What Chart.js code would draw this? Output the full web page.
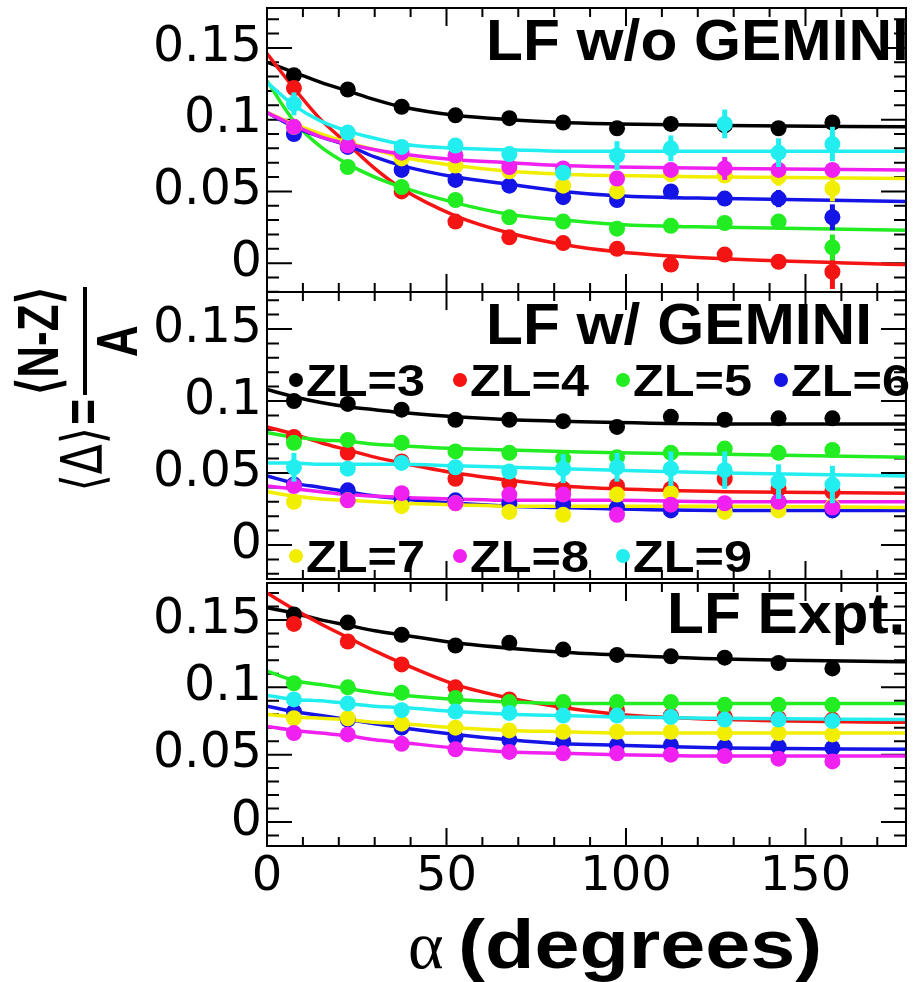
<!DOCTYPE html>
<html>
<head>
<meta charset="utf-8">
<script src="https://cdn.jsdelivr.net/npm/chart.js@4.4.0/dist/chart.umd.min.js"></script>
<style>
  html, body { margin: 0; padding: 0; background: #fff; }
  #wrap { position: relative; width: 915px; height: 982px; overflow: hidden; background: #fff; }
  #wrap canvas { position: absolute; left: 0; top: 0; }
</style>
</head>
<body>
<div id="wrap">
  <canvas id="panel1" width="915" height="982"></canvas>
  <canvas id="panel2" width="915" height="982"></canvas>
  <canvas id="panel3" width="915" height="982"></canvas>
</div>
<script>
// angle bins (degrees) of the measured points
const angles = [7.5, 22.5, 37.5, 52.5, 67.5, 82.5, 97.5, 112.5, 127.5, 142.5, 157.5];
const fitAngles = [0, 7.5, 15, 22.5, 30, 37.5, 52.5, 67.5, 82.5, 97.5, 127.5, 178];
const zlLabels = ['ZL=3', 'ZL=4', 'ZL=5', 'ZL=6', 'ZL=7', 'ZL=8', 'ZL=9'];
const zlColors = ['#000000', '#f41414', '#22ec22', '#1414e6', '#f2ee00', '#f020f0', '#22eef0'];
const xTickValues = [0, 50, 100, 150];
const yTickValues = [0, 0.05, 0.1, 0.15];

// LF w/o GEMINI
const woGeminiPts = [
  [0.131, 0.121, 0.109, 0.103, 0.101, 0.098, 0.094, 0.097, 0.096, 0.094, 0.098],
  [0.122, 0.083, 0.050, 0.029, 0.018, 0.014, 0.010, -0.001, 0.006, 0.001, -0.006],
  [0.095, 0.067, 0.053, 0.044, 0.032, 0.029, 0.024, 0.026, 0.028, 0.029, 0.011],
  [0.090, 0.081, 0.065, 0.058, 0.054, 0.046, 0.044, 0.050, 0.045, 0.045, 0.032],
  [0.095, 0.084, 0.073, 0.068, 0.064, 0.054, 0.050, 0.062, 0.061, 0.060, 0.052],
  [0.095, 0.082, 0.077, 0.075, 0.067, 0.066, 0.059, 0.065, 0.066, 0.065, 0.065],
  [0.111, 0.091, 0.081, 0.082, 0.076, 0.063, 0.075, 0.080, 0.097, 0.077, 0.083]
];
const woGeminiErr = [
  [0.002, 0.002, 0.002, 0.002, 0.002, 0.002, 0.002, 0.002, 0.003, 0.002, 0.002],
  [0.003, 0.003, 0.003, 0.003, 0.004, 0.004, 0.004, 0.004, 0.005, 0.004, 0.012],
  [0.003, 0.003, 0.003, 0.003, 0.003, 0.003, 0.003, 0.003, 0.003, 0.003, 0.009],
  [0.003, 0.003, 0.003, 0.003, 0.003, 0.003, 0.003, 0.004, 0.004, 0.006, 0.009],
  [0.003, 0.003, 0.003, 0.003, 0.003, 0.004, 0.004, 0.004, 0.004, 0.006, 0.009],
  [0.003, 0.003, 0.003, 0.003, 0.003, 0.003, 0.005, 0.005, 0.008, 0.004, 0.004],
  [0.008, 0.004, 0.003, 0.005, 0.005, 0.005, 0.010, 0.009, 0.010, 0.010, 0.012]
];
const woGeminiFit = [
  [0.140, 0.133, 0.126, 0.120, 0.114, 0.109, 0.103, 0.100, 0.098, 0.097, 0.096, 0.095],
  [0.146, 0.122, 0.100, 0.083, 0.066, 0.052, 0.033, 0.021, 0.013, 0.008, 0.003, -0.001],
  [0.127, 0.099, 0.081, 0.069, 0.060, 0.053, 0.042, 0.034, 0.030, 0.027, 0.025, 0.023],
  [0.105, 0.095, 0.088, 0.082, 0.074, 0.068, 0.060, 0.055, 0.050, 0.047, 0.045, 0.043],
  [0.105, 0.097, 0.090, 0.084, 0.079, 0.074, 0.068, 0.064, 0.062, 0.061, 0.060, 0.059],
  [0.105, 0.096, 0.088, 0.083, 0.079, 0.076, 0.072, 0.070, 0.068, 0.067, 0.066, 0.065],
  [0.126, 0.110, 0.099, 0.092, 0.087, 0.083, 0.080, 0.079, 0.078, 0.078, 0.078, 0.078]
];

// LF w/ GEMINI
const wGeminiPts = [
  [0.100, 0.098, 0.094, 0.087, 0.087, 0.086, 0.082, 0.089, 0.087, 0.088, 0.088],
  [0.075, 0.064, 0.058, 0.046, 0.043, 0.039, 0.041, 0.039, 0.046, 0.039, 0.037],
  [0.071, 0.073, 0.071, 0.065, 0.064, 0.060, 0.061, 0.064, 0.067, 0.064, 0.066],
  [0.042, 0.038, 0.032, 0.031, 0.029, 0.028, 0.026, 0.024, 0.025, 0.030, 0.024],
  [0.030, 0.031, 0.027, 0.029, 0.023, 0.021, 0.035, 0.036, 0.023, 0.024, 0.027],
  [0.041, 0.031, 0.036, 0.029, 0.035, 0.035, 0.021, 0.028, 0.029, 0.030, 0.026],
  [0.054, 0.053, 0.057, 0.054, 0.051, 0.053, 0.054, 0.053, 0.052, 0.044, 0.042]
];
const wGeminiErr = [
  [0.003, 0.003, 0.003, 0.003, 0.003, 0.003, 0.003, 0.003, 0.003, 0.003, 0.003],
  [0.003, 0.003, 0.003, 0.003, 0.003, 0.003, 0.003, 0.003, 0.004, 0.003, 0.003],
  [0.003, 0.003, 0.003, 0.003, 0.003, 0.003, 0.003, 0.003, 0.004, 0.003, 0.003],
  [0.003, 0.003, 0.003, 0.003, 0.003, 0.003, 0.003, 0.003, 0.003, 0.004, 0.003],
  [0.004, 0.004, 0.004, 0.004, 0.004, 0.004, 0.004, 0.004, 0.004, 0.004, 0.004],
  [0.004, 0.004, 0.004, 0.004, 0.004, 0.004, 0.004, 0.004, 0.004, 0.004, 0.004],
  [0.010, 0.005, 0.004, 0.005, 0.005, 0.010, 0.010, 0.012, 0.013, 0.012, 0.013]
];
const wGeminiFit = [
  [0.108, 0.103, 0.099, 0.096, 0.094, 0.092, 0.089, 0.087, 0.086, 0.085, 0.084, 0.084],
  [0.082, 0.077, 0.071, 0.066, 0.061, 0.057, 0.050, 0.045, 0.041, 0.039, 0.037, 0.036],
  [0.078, 0.075, 0.073, 0.072, 0.070, 0.069, 0.067, 0.066, 0.065, 0.064, 0.063, 0.061],
  [0.048, 0.043, 0.040, 0.037, 0.034, 0.032, 0.029, 0.027, 0.026, 0.025, 0.024, 0.024],
  [0.037, 0.034, 0.032, 0.031, 0.030, 0.029, 0.028, 0.027, 0.027, 0.027, 0.027, 0.026],
  [0.041, 0.039, 0.037, 0.035, 0.034, 0.033, 0.032, 0.031, 0.031, 0.031, 0.030, 0.030],
  [0.057, 0.057, 0.056, 0.056, 0.056, 0.056, 0.055, 0.054, 0.053, 0.052, 0.050, 0.048]
];

// LF Expt.
const exptPts = [
  [0.154, 0.148, 0.139, 0.131, 0.133, 0.128, 0.124, 0.123, 0.122, 0.118, 0.114],
  [0.147, 0.134, 0.117, 0.100, 0.091, 0.086, 0.083, 0.079, 0.078, 0.077, 0.076],
  [0.103, 0.100, 0.096, 0.092, 0.089, 0.089, 0.089, 0.089, 0.087, 0.087, 0.087],
  [0.082, 0.076, 0.070, 0.063, 0.061, 0.060, 0.057, 0.057, 0.056, 0.056, 0.055],
  [0.077, 0.077, 0.073, 0.070, 0.068, 0.067, 0.067, 0.067, 0.066, 0.066, 0.065],
  [0.066, 0.065, 0.058, 0.054, 0.052, 0.051, 0.051, 0.050, 0.049, 0.047, 0.045],
  [0.091, 0.088, 0.083, 0.082, 0.081, 0.079, 0.079, 0.078, 0.076, 0.076, 0.075]
];
const exptErr = [
  [0.002, 0.002, 0.002, 0.002, 0.002, 0.002, 0.002, 0.002, 0.002, 0.002, 0.002],
  [0.003, 0.003, 0.003, 0.003, 0.002, 0.002, 0.002, 0.002, 0.002, 0.002, 0.002],
  [0.002, 0.002, 0.002, 0.002, 0.002, 0.002, 0.002, 0.002, 0.002, 0.002, 0.002],
  [0.002, 0.002, 0.002, 0.002, 0.002, 0.002, 0.002, 0.002, 0.002, 0.002, 0.002],
  [0.002, 0.002, 0.002, 0.002, 0.002, 0.002, 0.002, 0.002, 0.002, 0.002, 0.002],
  [0.002, 0.002, 0.002, 0.002, 0.002, 0.002, 0.002, 0.002, 0.002, 0.002, 0.003],
  [0.002, 0.002, 0.002, 0.002, 0.002, 0.002, 0.002, 0.002, 0.002, 0.002, 0.002]
];
const exptFit = [
  [0.159, 0.155, 0.150, 0.146, 0.142, 0.139, 0.133, 0.129, 0.126, 0.124, 0.121, 0.119],
  [0.170, 0.158, 0.147, 0.137, 0.127, 0.118, 0.102, 0.092, 0.085, 0.080, 0.076, 0.074],
  [0.112, 0.105, 0.102, 0.099, 0.096, 0.094, 0.091, 0.089, 0.088, 0.088, 0.088, 0.088],
  [0.086, 0.082, 0.079, 0.076, 0.073, 0.070, 0.065, 0.061, 0.058, 0.057, 0.055, 0.054],
  [0.080, 0.078, 0.077, 0.076, 0.074, 0.073, 0.070, 0.068, 0.067, 0.066, 0.066, 0.066],
  [0.071, 0.068, 0.066, 0.064, 0.061, 0.059, 0.055, 0.052, 0.051, 0.050, 0.049, 0.049],
  [0.094, 0.091, 0.090, 0.088, 0.086, 0.085, 0.082, 0.080, 0.079, 0.078, 0.077, 0.076]
];

const NUM_FONT = '"DejaVu Sans", sans-serif';
const BOLD_FONT = '"Liberation Sans", Arial, sans-serif';

// draws text with a stretch (the figure's lettering is wide)
function wideText(ctx, text, x, y, font, sx, align, sy) {
  ctx.save();
  ctx.font = font;
  ctx.fillStyle = '#000';
  ctx.textAlign = align || 'left';
  ctx.textBaseline = 'alphabetic';
  ctx.translate(x, y);
  ctx.scale(sx, sy || 1);
  ctx.fillText(text, 0, 0);
  ctx.restore();
}

// ROOT style frame: inward ticks on all four sides
const framePlugin = {
  id: 'frame',
  beforeDatasetsDraw(chart) {
    const { ctx, chartArea: a } = chart;
    const xs = chart.scales.x, ys = chart.scales.y;
    ctx.save();
    ctx.strokeStyle = '#000';
    ctx.lineWidth = 2;
    ctx.beginPath();
    for (let k = 0; k <= 17; k++) {
      const px = xs.getPixelForValue(k * 10);
      const len = k % 5 === 0 ? 18 : 9;
      ctx.moveTo(px, a.top); ctx.lineTo(px, a.top + len);
      ctx.moveTo(px, a.bottom); ctx.lineTo(px, a.bottom - len);
    }
    for (let k = -2; k <= 17; k++) {
      const v = k / 100;
      if (v < ys.min || v > ys.max) continue;
      const py = ys.getPixelForValue(v);
      const len = k % 5 === 0 ? 25 : 12;
      ctx.moveTo(a.left, py); ctx.lineTo(a.left + len, py);
      ctx.moveTo(a.right, py); ctx.lineTo(a.right - len, py);
    }
    ctx.stroke();
    ctx.restore();
  },
  afterDatasetsDraw(chart) {
    const { ctx, chartArea: a } = chart;
    ctx.save();
    ctx.strokeStyle = '#000';
    ctx.lineWidth = 2;
    ctx.strokeRect(a.left, a.top, a.right - a.left, a.bottom - a.top);
    ctx.restore();
  }
};

// vertical error bars under each marker set
const errorBarPlugin = {
  id: 'errorBars',
  beforeDatasetDraw(chart, args) {
    const ds = chart.data.datasets[args.index];
    if (!ds.errors) return;
    const { ctx, chartArea: a } = chart;
    const ys = chart.scales.y;
    ctx.save();
    ctx.beginPath();
    ctx.rect(a.left, a.top, a.right - a.left, a.bottom - a.top);
    ctx.clip();
    ctx.strokeStyle = ds.borderColor;
    ctx.lineWidth = 5;
    args.meta.data.forEach((pt, i) => {
      const v = ds.data[i].y, e = ds.errors[i];
      ctx.beginPath();
      ctx.moveTo(pt.x, ys.getPixelForValue(v - e));
      ctx.lineTo(pt.x, ys.getPixelForValue(v + e));
      ctx.stroke();
    });
    ctx.restore();
  }
};

const panelTitlePlugin = {
  id: 'panelTitle',
  afterDraw(chart, args, opts) {
    if (!opts.text) return;
    wideText(chart.ctx, opts.text, opts.x, opts.y, 'bold 57px ' + BOLD_FONT, 1.06);
  }
};

// legend laid out in two rows inside the middle panel
const zlLegendPlugin = {
  id: 'zlLegend',
  afterDraw(chart, args, opts) {
    if (!opts.show) return;
    const ctx = chart.ctx;
    const cols = [296, 460, 623, 781];
    const rows = [380, 556];
    zlLabels.forEach((lab, k) => {
      const cx = cols[k % 4], cy = rows[Math.floor(k / 4)];
      ctx.save();
      ctx.fillStyle = zlColors[k];
      ctx.beginPath();
      ctx.arc(cx, cy, 7, 0, Math.PI * 2);
      ctx.fill();
      ctx.restore();
      wideText(ctx, lab, cx + 10, cy + 16, 'bold 42px ' + BOLD_FONT, 1.2, 'left', 1.05);
    });
  }
};

const axisTitlePlugin = {
  id: 'axisTitles',
  afterDraw(chart, args, opts) {
    if (!opts.show) return;
    const ctx = chart.ctx;
    // x title
    ctx.save();
    ctx.fillStyle = '#000';
    ctx.font = '68px "Liberation Serif", serif';
    ctx.textBaseline = 'alphabetic';
    ctx.fillText('\u03B1', 408, 968);
    ctx.restore();
    wideText(ctx, '(degrees)', 458, 968, 'bold 68px ' + BOLD_FONT, 1.19);
    // y title, rotated; glyphs stretched across the text like the rest of the figure
    ctx.save();
    ctx.fillStyle = '#000';
    ctx.translate(85, 395);
    ctx.rotate(-Math.PI / 2);
    ctx.fillRect(0, -2, 108, 4);
    const bold = 'bold 44px ' + BOLD_FONT;
    wideText(ctx, '\u27E8N-Z\u27E9', 54, -27, bold, 1, 'center', 1.3);
    wideText(ctx, 'A', 54, 52, bold, 1, 'center', 1.3);
    wideText(ctx, '=', -4, 17, bold, 1, 'right', 1.3);
    wideText(ctx, '\u27E8\u0394\u27E9', -32, 17, '44px ' + NUM_FONT, 1, 'right', 1.3);
    ctx.restore();
  }
};

function makePanel(id, pts, errs, fits, cfg) {
  const datasets = [];
  zlLabels.forEach((lab, k) => {
    datasets.push({
      label: lab + ' fit',
      data: fitAngles.map((a, i) => ({ x: a, y: fits[k][i] })),
      borderColor: zlColors[k],
      borderWidth: 3.5,
      pointRadius: 0,
      showLine: true,
      cubicInterpolationMode: 'monotone',
      order: 20 - k
    });
    datasets.push({
      label: lab,
      data: angles.map((a, i) => ({ x: a, y: pts[k][i] })),
      errors: errs[k],
      borderColor: zlColors[k],
      backgroundColor: zlColors[k],
      pointRadius: 8,
      pointBorderWidth: 0,
      showLine: false,
      order: 10 - k
    });
  });

  return new Chart(document.getElementById(id), {
    type: 'scatter',
    data: { datasets },
    options: {
      responsive: false,
      animation: false,
      devicePixelRatio: 1,
      events: [],
      layout: { padding: { top: cfg.top, bottom: cfg.bottomPad, left: 0, right: 9 } },
      scales: {
        x: {
          type: 'linear', min: 0, max: 178,
          display: cfg.showX,
          afterBuildTicks(s) { s.ticks = xTickValues.map(v => ({ value: v })); },
          afterFit(s) {
            if (cfg.showX) s.height = cfg.xHeight;
            s.paddingLeft = 0; s.paddingRight = 0;
          },
          grid: { display: false, drawTicks: false },
          border: { display: false },
          ticks: { color: '#000', padding: 3, maxRotation: 0, font: { family: NUM_FONT, size: 48 },
                   callback: v => String(v) }
        },
        y: {
          type: 'linear', min: cfg.yMin, max: cfg.yMax,
          afterFit(s) { s.width = 267; s.paddingTop = 0; s.paddingBottom = 0; },
          afterBuildTicks(s) { s.ticks = yTickValues.map(v => ({ value: v })); },
          grid: { display: false, drawTicks: false },
          border: { display: false },
          ticks: { color: '#000', padding: 5, font: { family: NUM_FONT, size: 49 },
                   callback: v => String(v) }
        }
      },
      plugins: {
        legend: { display: false },
        tooltip: { enabled: false },
        panelTitle: cfg.title,
        zlLegend: { show: !!cfg.legend },
        axisTitles: { show: !!cfg.axisTitles }
      }
    },
    plugins: [framePlugin, errorBarPlugin, panelTitlePlugin, zlLegendPlugin, axisTitlePlugin]
  });
}

makePanel('panel1', woGeminiPts, woGeminiErr, woGeminiFit, {
  top: 7, bottomPad: 982 - 292, yMin: -0.0201, yMax: 0.1778, showX: false,
  title: { text: 'LF w/o GEMINI', x: 486, y: 60 }
});
makePanel('panel2', wGeminiPts, wGeminiErr, wGeminiFit, {
  top: 292, bottomPad: 982 - 579, yMin: -0.0236, yMax: 0.1757, showX: false,
  title: { text: 'LF w/ GEMINI', x: 486, y: 344 }, legend: true
});
makePanel('panel3', exptPts, exptErr, exptFit, {
  top: 583, bottomPad: 0, yMin: -0.0178, yMax: 0.1774, showX: true, xHeight: 136,
  title: { text: 'LF Expt.', x: 667, y: 633 }, axisTitles: true
});
</script>
</body>
</html>
